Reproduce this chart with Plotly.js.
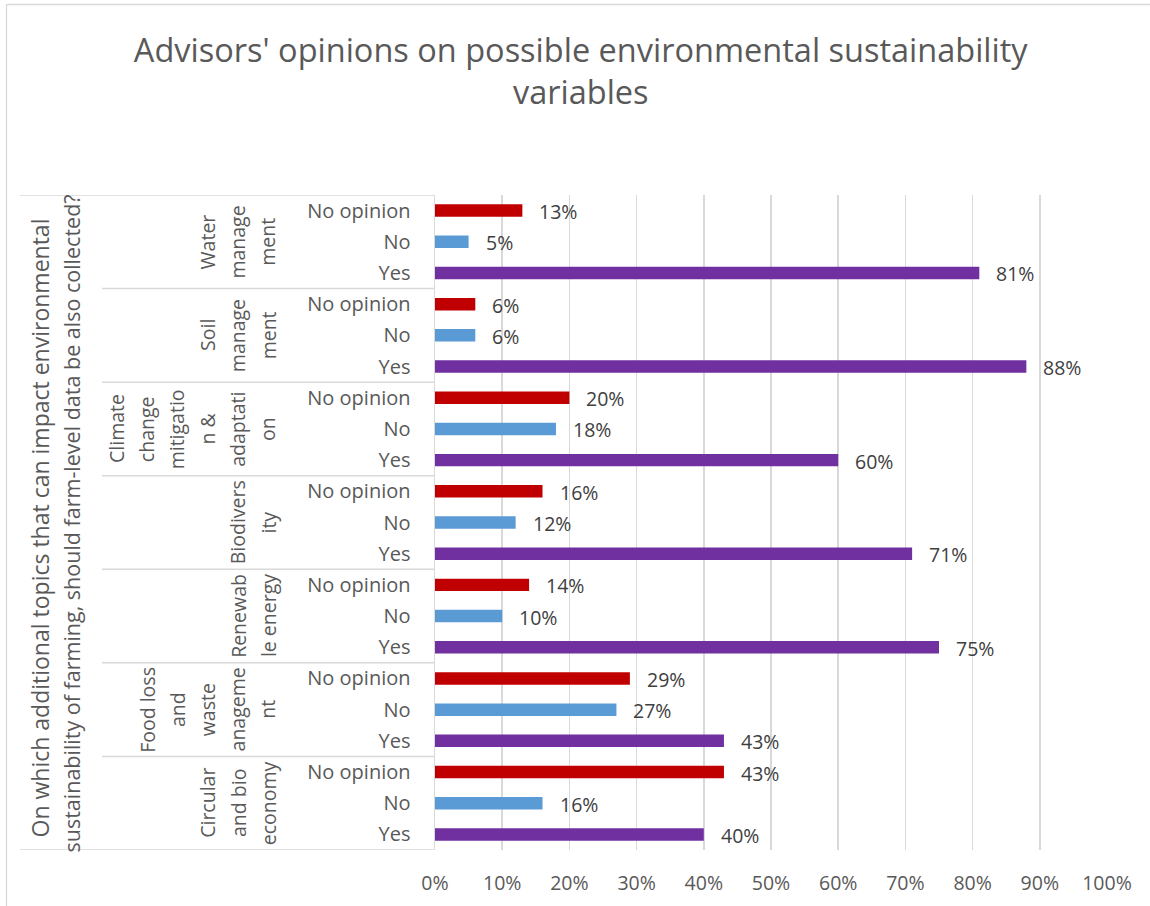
<!DOCTYPE html>
<html>
<head>
<meta charset="utf-8">
<script src="https://cdn.plot.ly/plotly-3.0.1.min.js"></script>
<style>html,body{margin:0;padding:0;background:#fff;}#chart{width:1150px;height:906px;}</style>
</head>
<body>
<div id="chart"></div>
<script>
// ---- data ----
const topics = ["Water management", "Soil management", "Climate change mitigation & adaptation",
  "Biodiversity", "Renewable energy", "Food loss and waste management", "Circular and bio economy"];
const topicLines = [
  ["Water", "manage", "ment"],
  ["Soil", "manage", "ment"],
  ["Climate", "change", "mitigatio", "n &", "adaptati", "on"],
  ["Biodivers", "ity"],
  ["Renewab", "le energy"],
  ["Food loss", "and", "waste", "anageme", "nt"],
  ["Circular", "and bio", "economy"]
];
const answers = ["No opinion", "No", "Yes"];
const noOpinionPct = [13, 6, 20, 16, 14, 29, 43];
const noPct = [5, 6, 18, 12, 10, 27, 16];
const yesPct = [81, 88, 60, 71, 75, 43, 40];
const outerTitle = ["On which additional topics that can impact environmental",
  "sustainability of farming, should farm-level data be also collected?"];
const chartTitle = "Advisors' opinions on possible environmental sustainability<br>variables";
const xTickVals = [0, 0.1, 0.2, 0.3, 0.4, 0.5, 0.6, 0.7, 0.8, 0.9, 1];

// ---- layout helpers ----
const W = 1150, H = 906;
const M = {l: 435, r: 43, t: 195, b: 56};
const PW = W - M.l - M.r, PH = H - M.t - M.b;
const px = v => (v - M.l) / PW;       // pixel x -> paper
const py = v => (H - M.b - v) / PH;   // pixel y -> paper
const FONT = '"Open Sans", "Noto Sans", sans-serif';
const GRID = '#d9d9d9';

const series = [
  {name: answers[0], vals: noOpinionPct, color: '#c00000', off: 0},
  {name: answers[1], vals: noPct, color: '#5b9bd5', off: 1},
  {name: answers[2], vals: yesPct, color: '#7030a0', off: 2}
];

const traces = series.map(s => ({
  type: 'bar', orientation: 'h', name: s.name,
  x: s.vals.map(v => v / 100),
  y: s.vals.map((v, g) => g * 3 + s.off),
  width: 0.4,
  marker: {color: s.color},
  hoverinfo: 'x+name',
  showlegend: false
}));

const annotations = [];
// data labels
series.forEach(s => s.vals.forEach((v, g) => {
  annotations.push({
    x: v / 100, y: g * 3 + s.off, xref: 'x', yref: 'y',
    text: v + '%', showarrow: false, xanchor: 'left', xshift: 15, yshift: -1,
    font: {family: FONT, size: 19.5, color: '#404040'}
  });
}));
// group (topic) labels, rotated, right-aligned block of wrapped lines
const lastLineX = 268, linePitch = 30.2;
topicLines.forEach((lines, g) => {
  const n = lines.length;
  lines.forEach((t, j) => {
    annotations.push({
      x: px(lastLineX - (n - 1 - j) * linePitch), xref: 'paper',
      y: g * 3 + 1, yref: 'y',
      text: t, textangle: -90, showarrow: false,
      xanchor: 'center', yanchor: 'middle',
      font: {family: FONT, size: 19.5, color: '#595959'}
    });
  });
});
// outer axis title (two lines)
const outerStyle = [{cx: 39, size: 23, ys: -6}, {cx: 71, size: 21.5, ys: -1}];
outerStyle.forEach((o, i) => {
  annotations.push({
    x: px(o.cx), xref: 'paper', y: 10, yref: 'y', yshift: o.ys,
    text: outerTitle[i], textangle: -90, showarrow: false,
    xanchor: 'center', yanchor: 'middle',
    font: {family: FONT, size: o.size, color: '#595959'}
  });
});

const shapes = [];
const line = {color: GRID, width: 1.5};
// group separators
for (let g = 1; g < topics.length; g++) {
  shapes.push({type: 'line', xref: 'paper', yref: 'y', x0: px(102), x1: 0,
    y0: g * 3 - 0.5, y1: g * 3 - 0.5, line: line});
}
// top and bottom lines of the category area
[-0.5, topics.length * 3 - 0.5].forEach(yv => {
  shapes.push({type: 'line', xref: 'paper', yref: 'y', x0: px(20), x1: 0,
    y0: yv, y1: yv, line: line});
});
// chart border (left and top edges visible)
shapes.push({type: 'line', xref: 'paper', yref: 'paper', x0: px(6.5), x1: px(6.5),
  y0: py(4.5), y1: py(H + 5), line: {color: GRID, width: 1.3}});
shapes.push({type: 'line', xref: 'paper', yref: 'paper', x0: px(6.5), x1: px(W + 5),
  y0: py(4.5), y1: py(4.5), line: {color: GRID, width: 1.3}});

const layout = {
  width: W, height: H,
  margin: M,
  paper_bgcolor: '#ffffff', plot_bgcolor: '#ffffff',
  font: {family: FONT, color: '#595959'},
  title: {
    text: chartTitle, x: 0.505, xref: 'container', xanchor: 'center',
    y: 0.932, yref: 'container', yanchor: 'top',
    font: {family: FONT, size: 32.5, color: '#595959'}
  },
  barmode: 'overlay',
  xaxis: {
    range: [0, 1], tickvals: xTickVals, tickformat: '.0%',
    showgrid: true, gridcolor: GRID, gridwidth: 1.5, zeroline: false,
    showline: false, ticks: '', ticklabelstandoff: 19,
    tickfont: {family: FONT, size: 19.5, color: '#595959'},
    fixedrange: true
  },
  yaxis: {
    range: [topics.length * 3 - 0.5, -0.5],
    tickvals: topics.flatMap((t, g) => [g * 3, g * 3 + 1, g * 3 + 2]),
    ticktext: topics.flatMap(() => answers),
    showgrid: false, zeroline: false,
    showline: true, linecolor: GRID, linewidth: 1.5,
    ticks: '', ticklabelstandoff: 19,
    tickfont: {family: FONT, size: 20, color: '#595959'},
    fixedrange: true
  },
  annotations: annotations,
  shapes: shapes
};

Plotly.newPlot('chart', traces, layout, {displayModeBar: false, staticPlot: true});
</script>
</body>
</html>
